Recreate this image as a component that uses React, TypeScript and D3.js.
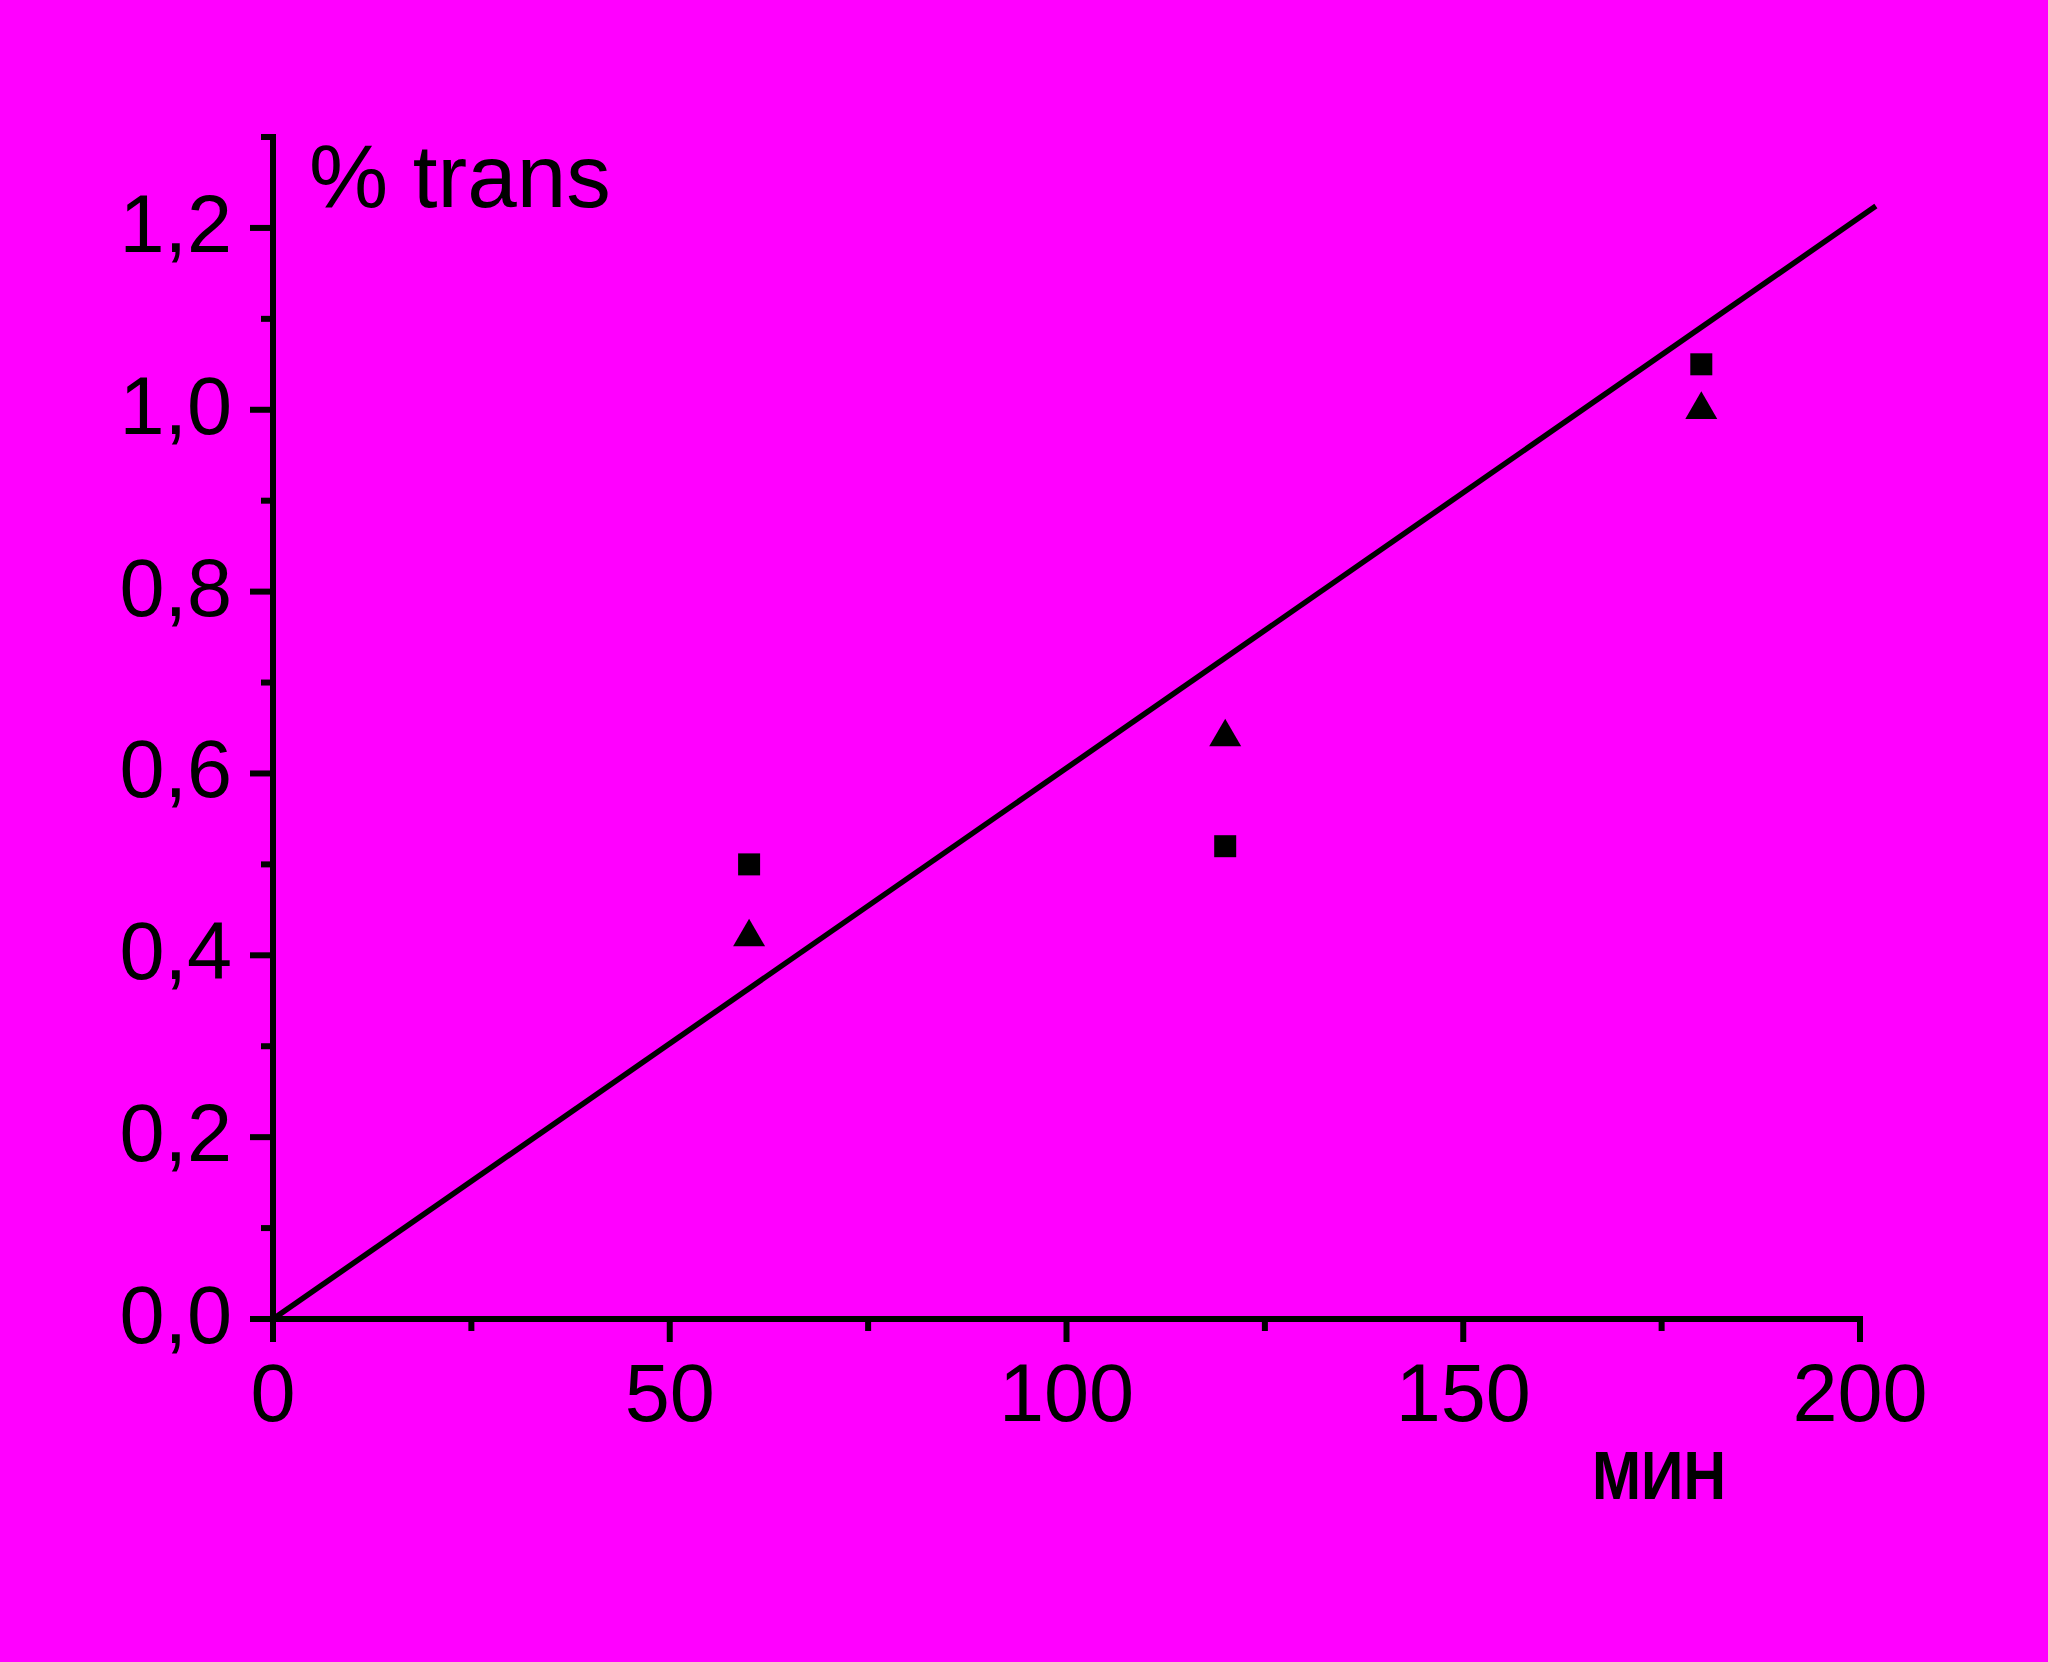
import React from "react";
import * as d3 from "d3";

const xTicks = [0, 50, 100, 150, 200];
const xTickLabels = ["0", "50", "100", "150", "200"];
const xMinorTicks = [25, 75, 125, 175];
const yTicks = [0, 0.2, 0.4, 0.6, 0.8, 1.0, 1.2];
const yTickLabels = ["0,0", "0,2", "0,4", "0,6", "0,8", "1,0", "1,2"];
const yMinorTicks = [0.1, 0.3, 0.5, 0.7, 0.9, 1.1, 1.3];

const times = [60, 120, 180];
const squareValues = [0.5, 0.52, 1.05];
const triangleValues = [0.42, 0.64, 1.0];
const fitLine: [number, number][] = [
  [0, 0],
  [202, 1.224],
];

const yTitle = "% trans";
const xTitle = "МИН";

export default function App() {
  const W = 2048;
  const H = 1662;
  const x = d3.scaleLinear().domain([0, 200]).range([273, 1860]);
  const y = d3.scaleLinear().domain([0, 1.3]).range([1319, 137]);
  const line = d3
    .line<[number, number]>()
    .x((d) => x(d[0]))
    .y((d) => y(d[1]));
  const sq = d3.symbol().type(d3.symbolSquare).size(484)() as string;
  const tri = d3.symbol().type(d3.symbolTriangle).size(443)() as string;
  const font = "'Liberation Sans', Arial, sans-serif";
  const sw = 6;
  const major = 20;
  const minor = 9;
  const x0 = x(0);
  const y0 = y(0);

  return (
    <svg
      width={W}
      height={H}
      style={{ position: "absolute", left: 0, top: 0, display: "block" }}
    >
      <rect x={0} y={0} width={W} height={H} fill="#ff00ff" />
      {/* axes */}
      <line x1={x0} x2={x0} y1={y0} y2={y(1.3) - sw / 2} stroke="#000" strokeWidth={sw} />
      <line x1={x0} x2={x(200) + sw / 2} y1={y0} y2={y0} stroke="#000" strokeWidth={sw} />
      {yTicks.map((t, i) => (
        <g key={"yt" + i}>
          <line x1={x0 - major - sw / 2} x2={x0} y1={y(t)} y2={y(t)} stroke="#000" strokeWidth={sw} />
          <text
            x={x0 - 41}
            y={y(t) + 24}
            textAnchor="end"
            fontFamily={font}
            fontSize={81}
            fill="#000"
          >
            {yTickLabels[i]}
          </text>
        </g>
      ))}
      {yMinorTicks.map((t, i) => (
        <line key={"ym" + i} x1={x0 - minor - sw / 2} x2={x0} y1={y(t)} y2={y(t)} stroke="#000" strokeWidth={sw} />
      ))}
      {xTicks.map((t, i) => (
        <g key={"xt" + i}>
          <line x1={x(t)} x2={x(t)} y1={y0} y2={y0 + major + sw / 2} stroke="#000" strokeWidth={sw} />
          <text
            x={x(t)}
            y={y0 + 102}
            textAnchor="middle"
            fontFamily={font}
            fontSize={81}
            fill="#000"
          >
            {xTickLabels[i]}
          </text>
        </g>
      ))}
      {xMinorTicks.map((t, i) => (
        <line key={"xm" + i} x1={x(t)} x2={x(t)} y1={y0} y2={y0 + minor + sw / 2} stroke="#000" strokeWidth={sw} />
      ))}
      {/* fit line */}
      <path d={line(fitLine) as string} fill="none" stroke="#000" strokeWidth={5.5} />
      {/* markers */}
      {times.map((t, i) => (
        <path key={"s" + i} d={sq} transform={`translate(${x(t)},${y(squareValues[i])})`} fill="#000" />
      ))}
      {times.map((t, i) => (
        <path key={"t" + i} d={tri} transform={`translate(${x(t)},${y(triangleValues[i])})`} fill="#000" />
      ))}
      {/* titles */}
      <text x={309} y={207} fontFamily={font} fontSize={89} fill="#000">
        {yTitle}
      </text>
      <text
        x={1592}
        y={1499}
        fontFamily={font}
        fontSize={68}
        fontWeight="bold"
        textLength={134}
        lengthAdjust="spacingAndGlyphs"
        fill="#000"
      >
        {xTitle}
      </text>
    </svg>
  );
}
